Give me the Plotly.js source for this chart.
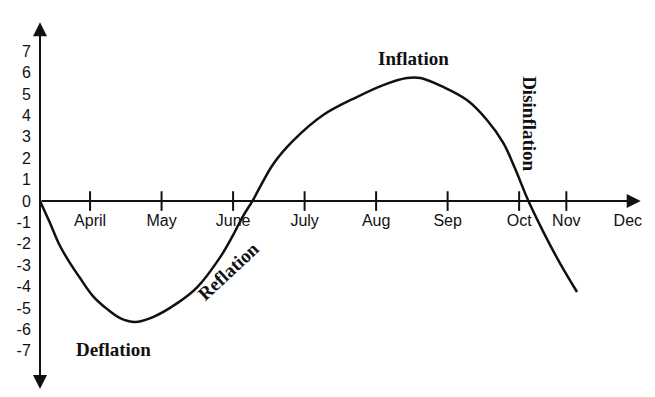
<!DOCTYPE html>
<html>
<head>
<meta charset="utf-8">
<script src="https://cdn.plot.ly/plotly-3.0.1.min.js"></script>
<style>html,body{margin:0;padding:0;background:#fff;}#chart{width:655px;height:397px;}</style>
</head>
<body>
<div id="chart"></div>
<script>
// Month positions (April = 4 ... ; Nov/Dec spaced as drawn in original)
const monthLabels = ["April", "May", "June", "July", "Aug", "Sep", "Oct", "Nov", "Dec"];
const monthPos = [4, 5, 6, 7, 8, 9, 10, 10.66, 11.52];
const tickMarkPos = [4, 5, 6, 7, 8, 9, 10, 10.66];
const yTicks = [7, 6, 5, 4, 3, 2, 1, 0, -1, -2, -3, -4, -5, -6, -7];

// Business-cycle curve
const curveX = [3.30, 3.44, 3.58, 3.72, 3.86, 4.04, 4.24, 4.42, 4.63, 4.88, 5.22, 5.50, 5.82, 6.00, 6.14, 6.27,
                6.56, 6.84, 7.26, 7.73, 8.10, 8.43, 8.62, 8.94, 9.27, 9.55, 9.78, 9.94, 10.13, 10.34, 10.57, 10.81];
const curveY = [0, -1.03, -2.10, -2.90, -3.60, -4.44, -5.05, -5.47, -5.65, -5.42, -4.77, -4.02, -2.62, -1.59, -0.70, 0,
                1.72, 2.82, 4.02, 4.86, 5.42, 5.75, 5.75, 5.33, 4.72, 3.79, 2.71, 1.54, 0, -1.45, -2.90, -4.25];

const phaseNames = ["Inflation", "Deflation", "Reflation", "Disinflation"];
const phaseX = [8.52, 4.33, 5.93, 10.15];
const phaseY = [6.68, -6.96, -3.30, 3.6];
const phaseAngle = [0, 0, -43, 90];

const xMin = 3.30, xMax = 11.76, yMin = -8.97, yMax = 8.46;
const zeroFrac = (0 - yMin) / (yMax - yMin);

const traces = [
  {
    x: curveX, y: curveY, type: "scatter", mode: "lines",
    line: {color: "#111", width: 2.5, shape: "spline", smoothing: 1.0},
    hoverinfo: "skip", showlegend: false
  },
  {
    x: tickMarkPos, y: tickMarkPos.map(() => 0), type: "scatter", mode: "markers",
    marker: {symbol: "line-ns", size: 14, line: {color: "#111", width: 2}},
    hoverinfo: "skip", showlegend: false
  }
];

const annotations = [
  // y axis double arrow
  {x: xMin, y: 8.35, ax: xMin, ay: -8.85, xref: "x", yref: "y", axref: "x", ayref: "y",
   text: "", showarrow: true, arrowhead: 2, arrowside: "end+start", arrowsize: 1.4, arrowwidth: 2, arrowcolor: "#111"},
  // x axis arrow
  {x: 11.70, y: 0, ax: xMin, ay: 0, xref: "x", yref: "y", axref: "x", ayref: "y",
   text: "", showarrow: true, arrowhead: 2, arrowsize: 1.4, arrowwidth: 2, arrowcolor: "#111"}
];
phaseNames.forEach((t, i) => {
  annotations.push({
    x: phaseX[i], y: phaseY[i], xref: "x", yref: "y", text: "<b>" + t + "</b>",
    showarrow: false, textangle: phaseAngle[i], xanchor: "center", yanchor: "middle",
    font: {family: "Liberation Serif, Times New Roman, serif", size: 19, color: "#111"}
  });
});

const layout = {
  width: 655, height: 397,
  margin: {l: 40, r: 10, t: 20, b: 4},
  paper_bgcolor: "#fff", plot_bgcolor: "#fff",
  showlegend: false,
  xaxis: {
    range: [xMin, xMax], showgrid: false, zeroline: false, showline: false,
    anchor: "free", position: zeroFrac,
    tickmode: "array", tickvals: monthPos, ticktext: monthLabels,
    ticks: "outside", ticklen: 5, tickcolor: "rgba(0,0,0,0)",
    tickfont: {family: "Liberation Sans, Arial, sans-serif", size: 16, color: "#111"}
  },
  yaxis: {
    range: [yMin, yMax], showgrid: false, zeroline: false, showline: false,
    tickmode: "array", tickvals: yTicks, ticktext: yTicks.map(String),
    ticks: "outside", ticklen: 5, tickcolor: "rgba(0,0,0,0)",
    tickfont: {family: "Liberation Sans, Arial, sans-serif", size: 16, color: "#111"}
  },
  annotations: annotations
};

Plotly.newPlot("chart", traces, layout, {staticPlot: true, displayModeBar: false});
</script>
</body>
</html>
